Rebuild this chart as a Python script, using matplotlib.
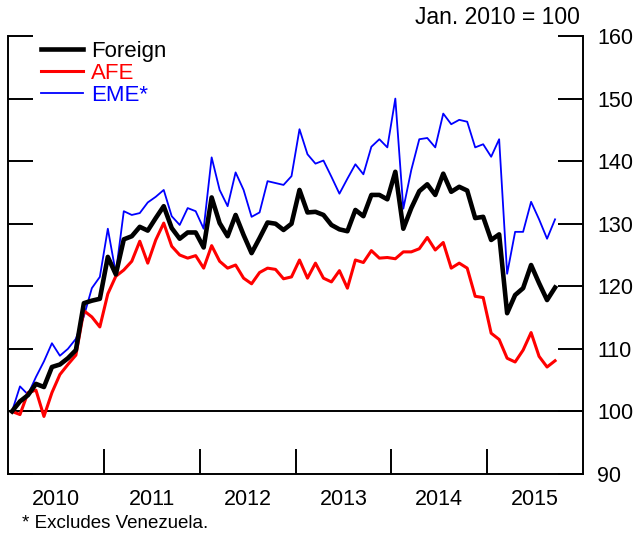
import matplotlib
matplotlib.use("Agg")
import matplotlib.pyplot as plt
import pandas as pd

plt.rcParams['font.family'] = ['Liberation Sans', 'DejaVu Sans']

# Monthly index levels, Jan. 2010 = 100
months = pd.date_range("2010-01-01", periods=69, freq="MS")

foreign = [100.0, 101.6, 102.6, 104.4, 103.9, 107.1, 107.5, 108.5, 109.8, 117.3,
           117.7, 118.0, 124.7, 121.9, 127.5, 128.0, 129.5, 128.9, 130.9, 132.8,
           129.3, 127.6, 128.6, 128.6, 126.2, 134.2, 130.1, 128.0, 131.4, 128.2,
           125.3, 127.7, 130.2, 130.0, 129.0, 130.0, 135.4, 131.8, 131.9, 131.4,
           129.8, 129.1, 128.8, 132.2, 131.2, 134.6, 134.6, 133.9, 138.3, 129.2,
           132.5, 135.2, 136.3, 134.6, 138.0, 135.1, 135.9, 135.3, 130.9, 131.1,
           127.4, 128.3, 115.7, 118.6, 119.7, 123.4, 120.5, 117.8, 119.8]

afe = [100.0, 99.5, 103.0, 103.4, 99.2, 103.0, 105.9, 107.5, 109.0, 116.1,
       115.1, 113.5, 118.8, 121.6, 122.6, 124.0, 127.2, 123.7, 127.4, 130.1,
       126.4, 125.0, 124.5, 124.9, 122.9, 126.5, 124.0, 122.9, 123.4, 121.3,
       120.4, 122.2, 122.9, 122.7, 121.2, 121.5, 124.2, 121.3, 123.7, 121.3,
       120.7, 122.5, 119.7, 124.2, 123.8, 125.7, 124.5, 124.6, 124.4, 125.5,
       125.5, 126.0, 127.8, 125.8, 127.0, 122.9, 123.7, 122.9, 118.4, 118.2,
       112.5, 111.5, 108.5, 107.9, 109.8, 112.6, 108.8, 107.1, 108.1]

eme = [100.0, 104.0, 102.7, 105.5, 108.0, 110.9, 108.9, 110.0, 111.6, 115.2,
       119.7, 121.5, 129.2, 122.1, 132.0, 131.4, 131.7, 133.4, 134.3, 135.4,
       131.2, 129.8, 132.5, 132.0, 129.2, 140.6, 135.4, 132.8, 138.2, 135.4,
       131.1, 131.8, 136.8, 136.5, 136.2, 137.6, 145.1, 141.1, 139.6, 140.1,
       137.5, 134.8, 137.2, 139.5, 137.9, 142.3, 143.5, 142.2, 150.0, 132.4,
       138.6, 143.5, 143.7, 142.2, 147.6, 145.9, 146.6, 146.3, 142.2, 142.7,
       140.7, 143.5, 122.0, 128.7, 128.7, 133.5, 130.7, 127.6, 130.7]

year_labels = ["2010", "2011", "2012", "2013", "2014", "2015"]
y_ticks = [90, 100, 110, 120, 130, 140, 150, 160]

# Place each month at the middle of its span on a fractional-year axis
x = [d.year + (d.month - 0.5) / 12 for d in months]

fig = plt.figure(figsize=(6.38, 5.37), dpi=100)
ax = fig.add_axes([8 / 638, 1 - 474 / 537, 575 / 638, 438 / 537])

ax.axhline(100, color="black", lw=1.4, zorder=1)
ax.plot(x, eme, color="#0000FF", lw=1.3, label="EME*", zorder=3)
ax.plot(x, afe, color="#FF0000", lw=2.2, label="AFE", zorder=4)
ax.plot(x, foreign, color="black", lw=3.3, label="Foreign", zorder=5)

ax.set_xlim(2010, 2016)
ax.set_ylim(90, 160)

for side in ("left", "right", "bottom"):
    ax.spines[side].set_linewidth(1.4)
ax.spines["top"].set_visible(False)

# Year separators along the bottom, labels centred on each year
ax.set_xticks([2011, 2012, 2013, 2014, 2015])
ax.set_xticklabels([])
ax.set_xticks([int(y) + 0.5 for y in year_labels], minor=True)
ax.set_xticklabels(year_labels, minor=True, fontsize=15.5)
ax.tick_params(axis="x", which="major", direction="in", length=18, width=1.4)
ax.tick_params(axis="x", which="minor", length=0, pad=11)

ax.set_yticks(y_ticks)
ax.set_yticklabels([str(v) for v in y_ticks], fontsize=15.5)
ax.yaxis.tick_right()
ax.tick_params(axis="y", which="major", direction="in", length=18, width=1.4,
               left=True, right=True, labelleft=False, labelright=True, pad=10)
# Longer marks at the top of the scale on both sides
ax.set_yticks([160], minor=True)
ax.tick_params(axis="y", which="minor", direction="in", length=38, width=1.4,
               left=True, right=True, labelleft=False, labelright=False)

handles, labels = ax.get_legend_handles_labels()
order = [2, 1, 0]
leg = ax.legend([handles[i] for i in order], [labels[i] for i in order],
                loc="upper left", bbox_to_anchor=(0.042, 1.01), frameon=False,
                fontsize=16, handlelength=1.9, handletextpad=0.35,
                labelspacing=0.06, borderaxespad=0)
for text, col in zip(leg.get_texts(), ["black", "#FF0000", "#0000FF"]):
    text.set_color(col)

fig.text(580 / 638, 1 - 18 / 537, "Jan. 2010 = 100", ha="right", va="center",
         fontsize=16.5)
fig.text(22 / 638, 1 - 523 / 537, "* Excludes Venezuela.", ha="left",
         va="center", fontsize=13.5)

fig.savefig("out.png", dpi=100)
